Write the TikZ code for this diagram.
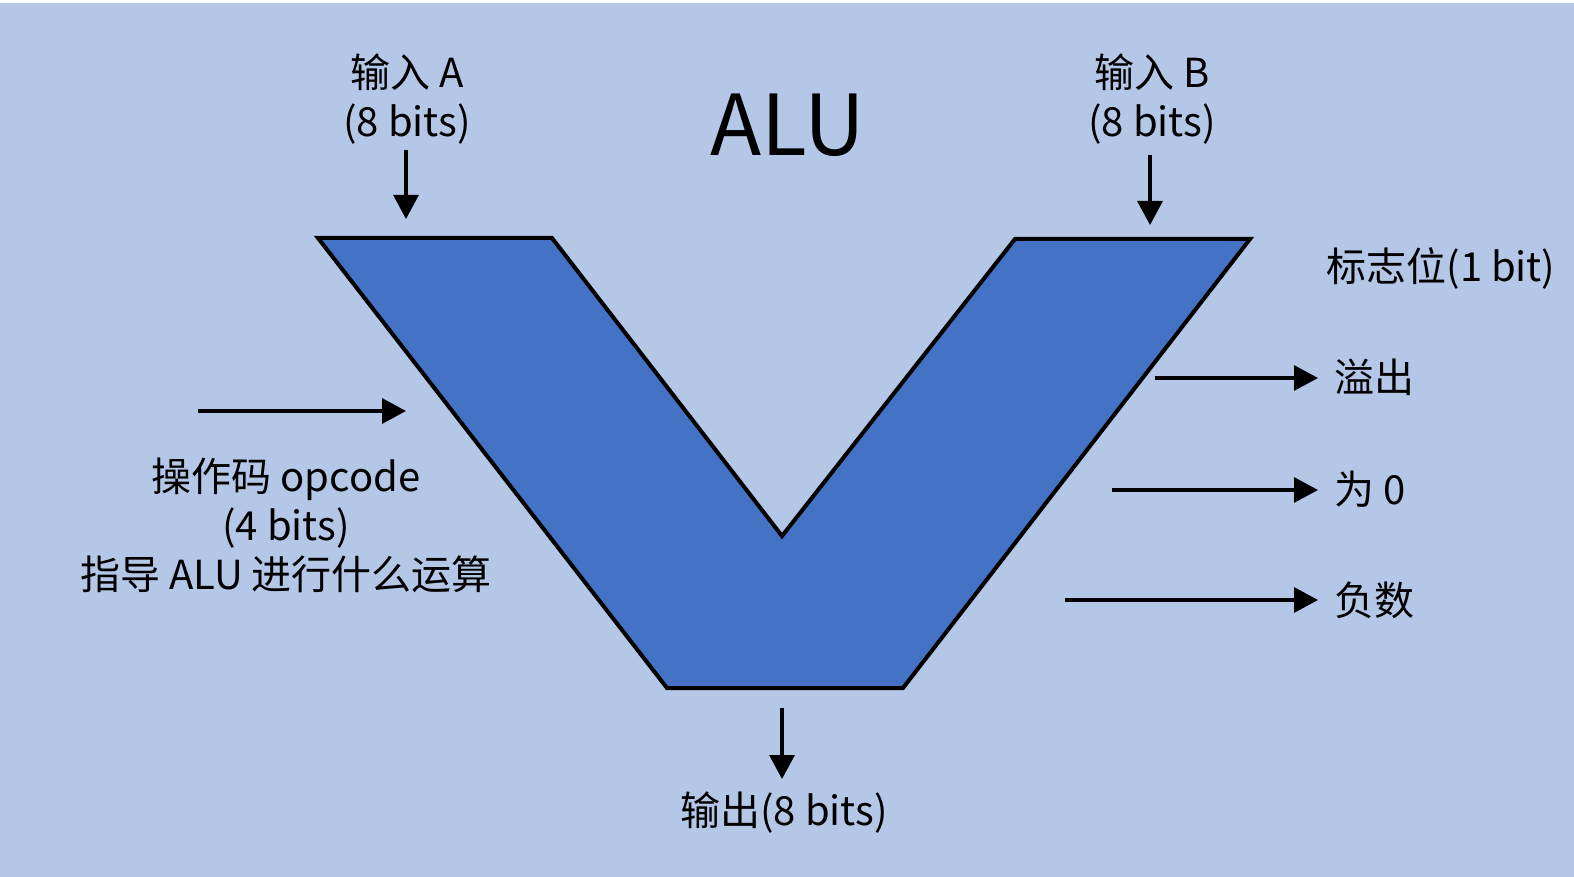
\documentclass[tikz,border=0pt]{standalone}
\usepackage{fontspec}
\setmainfont{Noto Sans CJK SC}
\usepackage{xcolor}
\usepackage{tikz}
\usetikzlibrary{arrows.meta,positioning}
\definecolor{bgblue}{RGB}{180,199,231}
\definecolor{alublue}{RGB}{68,114,196}
\tikzset{
  lbl/.style={align=center, inner sep=0pt, font=\fontsize{20}{24.5}\selectfont},
  arr/.style={line width=1.6pt, -{Triangle[length=12pt,width=12.5pt]}},
}

\begin{document}
\begin{tikzpicture}[x=0.5pt,y=0.5pt,yscale=-1]
\useasboundingbox (0,0) rectangle (1574,877);
%background
\fill[white] (0,0) rectangle (1574,877);
\fill[bgblue] (0,3) rectangle (1574,877);

%ALU body [V shape]
\draw [line width=2pt, fill=alublue, line join=miter] (318,238) -- (552,238) -- (782,536) -- (1015,239) -- (1250,239) -- (903,688) -- (667,688) -- cycle ;

% Title
\node (title) at (788,125) [inner sep=0pt, font=\fontsize{42}{42}\selectfont] {ALU};

% Text Node
\node (inA) at (407,99) [lbl] {输入 A\\(8 bits)};
% Text Node
\node (inB) at (1152,99) [lbl] {输入 B\\(8 bits)};
% Text Node
\node (flag) at (1441,268) [lbl] {标志位(1 bit)};
% Text Node
\node (ovf) at (1334,377) [lbl, anchor=west] {溢出};
% Text Node
\node (zero) at (1334,489) [lbl, anchor=west] {为 0};
% Text Node
\node (neg) at (1334,600) [lbl, anchor=west] {负数};
% Text Node
\node (opc) at (286,525) [lbl] {操作码 opcode\\(4 bits)\\指导 ALU 进行什么运算};
% Text Node
\node (out) at (784,813) [lbl] {输出(8 bits)};

%arrow ends
\coordinate (srcA) at (406,150);
\coordinate (topA) at (406,219);
\coordinate (srcB) at (1150,155);
\coordinate (topB) at (1150,225);
\coordinate (opIn) at (198,411);
\coordinate (opEnd) at (406,411);
\coordinate (botOut) at (782,708);
\coordinate (outTip) at (782,779);
\coordinate (ovfIn) at (1155,378);
\coordinate (zeroIn) at (1112,490);
\coordinate (negIn) at (1065,600);

%Arrows
\draw [arr] (srcA) -- (topA);
\draw [arr] (srcB) -- (topB);
\draw [arr] (opIn) -- (opEnd);
\draw [arr] (botOut) -- (outTip);
\draw [arr, shorten >=8pt] (ovfIn) -- (ovf.west |- ovfIn) ;
\draw [arr, shorten >=8pt] (zeroIn) -- (zero.west |- zeroIn);
\draw [arr, shorten >=8pt] (negIn) -- (neg.west |- negIn);

\end{tikzpicture}
\end{document}
